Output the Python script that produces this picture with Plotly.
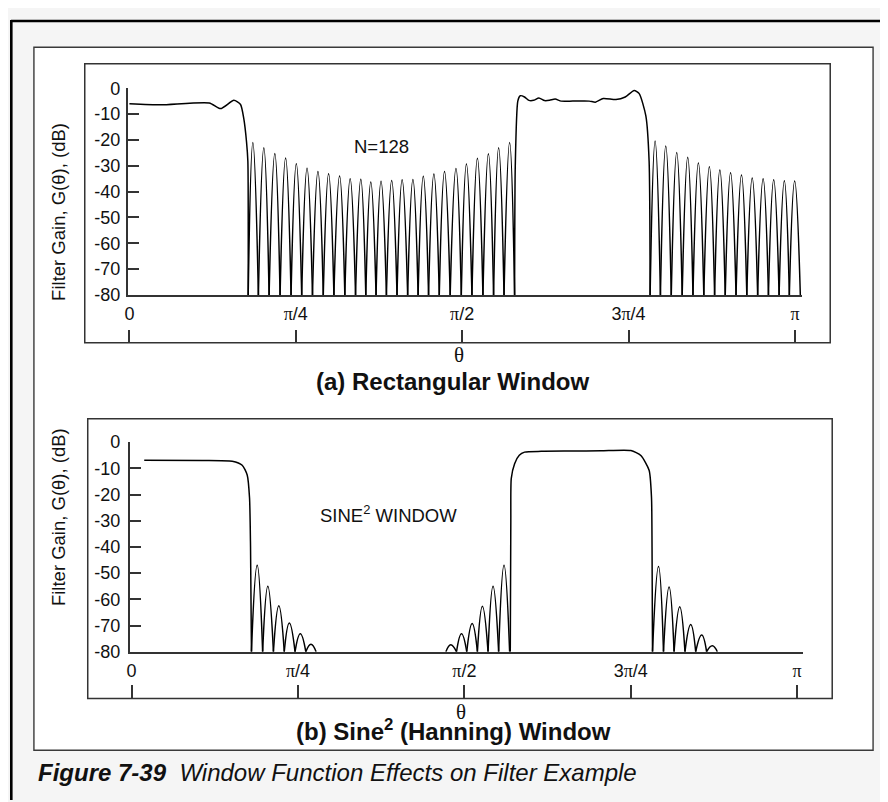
import plotly.graph_objects as go

W, H = 888, 802
FLOOR_DB = -80.0

# ---------------- data (x in units of pi, y in dB) ----------------
# Panel (a): rectangular window, N = 128
a_pass_lo_x = [0.000, 0.047, 0.120, 0.137, 0.157, 0.167, 0.172, 0.176, 0.178, 0.1785]
a_pass_lo_db = [-6.0, -6.4, -5.7, -7.9, -4.7, -6.3, -12.0, -20.8, -28.3, -80.0]

a_stop1_null = [0.1785, 0.1938, 0.2099, 0.2264, 0.2429, 0.2589, 0.2751, 0.2913, 0.3073,
                0.3237, 0.3398, 0.3552, 0.3706, 0.3862, 0.4021, 0.4181, 0.4338, 0.4495,
                0.4656, 0.4820, 0.4987, 0.5147, 0.5312, 0.5472, 0.5629, 0.5788]
a_stop1_peak_x = [0.1855, 0.2020, 0.2185, 0.2347, 0.2508, 0.2669, 0.2833, 0.2993, 0.3158,
                  0.3317, 0.3477, 0.3627, 0.3781, 0.3941, 0.4098, 0.4260, 0.4416, 0.4575,
                  0.4735, 0.4907, 0.5064, 0.5229, 0.5394, 0.5548, 0.5713]
a_stop1_peak_db = [-21.0, -23.0, -25.3, -27.0, -29.2, -31.0, -32.2, -33.1, -34.0,
                   -35.0, -35.2, -36.3, -36.0, -35.7, -35.4, -35.3, -34.1, -33.2,
                   -32.2, -31.1, -29.3, -27.1, -25.4, -23.0, -21.0]

a_pass_hi_x = [0.5788, 0.5798, 0.5836, 0.5873, 0.5937, 0.6003, 0.6072, 0.6153, 0.6237,
               0.6312, 0.6397, 0.6487, 0.6662, 0.6911, 0.7001, 0.7120, 0.7311, 0.7450,
               0.7585, 0.7660, 0.7760, 0.7809, 0.7824]
a_pass_hi_db = [-80.0, -30.0, -5.0, -2.9, -3.4, -4.7, -4.7, -3.8, -4.8,
                -4.7, -4.2, -5.0, -5.0, -5.0, -5.4, -4.0, -4.4, -3.4,
                -0.9, -2.1, -10.7, -28.3, -80.0]

a_stop2_null = [0.7824, 0.7979, 0.8142, 0.8306, 0.8468, 0.8631, 0.8793, 0.8953,
                0.9115, 0.9277, 0.9440, 0.9602, 0.9762, 0.9916, 1.0081]
a_stop2_peak_x = [0.7899, 0.8059, 0.8224, 0.8389, 0.8549, 0.8714, 0.8872, 0.9033,
                  0.9197, 0.9358, 0.9522, 0.9681, 0.9841, 0.9996]
a_stop2_peak_db = [-20.4, -22.4, -24.9, -26.7, -28.9, -30.4, -31.7, -32.7,
                   -33.6, -34.8, -35.0, -35.4, -35.8, -35.9]

# Panel (b): sine^2 (Hanning) window
b_pass_lo_x = [0.019, 0.1063, 0.1512, 0.1662, 0.1737, 0.1772, 0.1787, 0.1801]
b_pass_lo_db = [-6.9, -7.0, -7.3, -8.8, -12.5, -21.2, -39.8, -80.0]

b_side1_null = [0.1801, 0.1969, 0.2131, 0.2294, 0.2456, 0.2618, 0.2773]
b_side1_peak_x = [0.1887, 0.2047, 0.2212, 0.2370, 0.2535, 0.2695]
b_side1_peak_db = [-47.0, -55.0, -62.4, -69.0, -73.1, -77.1]

b_side2_null = [0.4722, 0.4882, 0.5036, 0.5196, 0.5356, 0.5515, 0.5680]
b_side2_peak_x = [0.4796, 0.4957, 0.5117, 0.5271, 0.5431, 0.5596]
b_side2_peak_db = [-77.3, -73.1, -69.2, -62.6, -55.0, -47.0]

b_pass_hi_x = [0.5690, 0.5698, 0.5705, 0.5755, 0.5825, 0.5905, 0.6156, 0.6604,
               0.7053, 0.7502, 0.7652, 0.7776, 0.7812, 0.7820, 0.7827]
b_pass_hi_db = [-80.0, -30.0, -13.8, -8.2, -5.0, -3.8, -3.5, -3.4,
                -3.3, -3.2, -5.1, -10.7, -21.2, -40.0, -80.0]

b_side3_null = [0.7827, 0.7992, 0.8151, 0.8315, 0.8476, 0.8640, 0.8801]
b_side3_peak_x = [0.7917, 0.8076, 0.8236, 0.8401, 0.8566, 0.8726]
b_side3_peak_db = [-47.5, -55.3, -62.8, -69.6, -73.6, -77.7]

# axis ticks
x_tickvals = [0, 0.25, 0.5, 0.75, 1.0]
PI = '<span style="font-family:Liberation Serif">π</span>'
x_ticktext = ['0', PI + '/4', PI + '/2', '3' + PI + '/4', PI]
y_tickvals = [0, -10, -20, -30, -40, -50, -60, -70, -80]
y_ticktext = ['0', '-10', '-20', '-30', '-40', '-50', '-60', '-70', '-80']

# ---------------- styling ----------------
FONT = "Liberation Sans, Arial, Helvetica, sans-serif"
INK = "#111111"
AX = "#333333"
CURVE = dict(color="black", width=1.5, shape="spline", smoothing=1.3)
PASS = dict(color="black", width=1.5, shape="spline", smoothing=0.6)

# the page body adds an 8 px margin; positions below are given in screen pixels
OFF = 8


def px(x):
    return (x - OFF) / W


def py(y):
    return 1 - (y - OFF) / H


def lobes(nulls, peak_x, peak_db):
    xs, ys = [], []
    for i in range(len(peak_x)):
        xs += [nulls[i], peak_x[i], nulls[i + 1], None]
        ys += [FLOOR_DB, peak_db[i], FLOOR_DB, None]
    return xs, ys


fig = go.Figure()


def add(x, y, line, xa, ya):
    fig.add_trace(go.Scatter(x=x, y=y, mode="lines", line=line, xaxis=xa, yaxis=ya,
                             hoverinfo="skip", showlegend=False, connectgaps=False))


# panel (a)
add(a_pass_lo_x, a_pass_lo_db, PASS, "x", "y")
add(*lobes(a_stop1_null, a_stop1_peak_x, a_stop1_peak_db), CURVE, "x", "y")
add(a_pass_hi_x, a_pass_hi_db, PASS, "x", "y")
add(*lobes(a_stop2_null, a_stop2_peak_x, a_stop2_peak_db), CURVE, "x", "y")
# panel (b)
add(b_pass_lo_x, b_pass_lo_db, PASS, "x2", "y2")
add(*lobes(b_side1_null, b_side1_peak_x, b_side1_peak_db), CURVE, "x2", "y2")
add(*lobes(b_side2_null, b_side2_peak_x, b_side2_peak_db), CURVE, "x2", "y2")
add(b_pass_hi_x, b_pass_hi_db, PASS, "x2", "y2")
add(*lobes(b_side3_null, b_side3_peak_x, b_side3_peak_db), CURVE, "x2", "y2")
# carriers for the bottom tick-mark axes
add([None], [None], dict(color="rgba(0,0,0,0)"), "x3", "y")
add([None], [None], dict(color="rgba(0,0,0,0)"), "x4", "y2")

tickfont = dict(family=FONT, size=18, color=INK)


def xaxis(domain, rng, anchor):
    return dict(domain=domain, range=rng, anchor=anchor, showline=True, linecolor=AX,
                linewidth=1.5, ticks="", tickvals=x_tickvals, ticktext=x_ticktext,
                tickfont=tickfont, ticklabelstandoff=2, showgrid=False, zeroline=False,
                fixedrange=True)


def yaxis(domain, anchor, standoff):
    return dict(domain=domain, range=[-80, 0], anchor=anchor, showline=True, linecolor=AX,
                linewidth=1.5, ticks="inside", ticklen=12, tickwidth=1.5, tickcolor=AX,
                tickvals=y_tickvals, ticktext=y_ticktext, tickfont=tickfont,
                ticklabelstandoff=standoff, showgrid=False, zeroline=False, fixedrange=True)


def tickaxis(over, pos, rng, ln):
    return dict(overlaying=over, anchor="free", position=pos, range=rng,
                tickvals=x_tickvals, ticks="inside", ticklen=ln, tickwidth=1.5,
                tickcolor=AX, showticklabels=False, showline=False, showgrid=False,
                zeroline=False, fixedrange=True)


xa_rng = [-0.0027, 1.0111]
xb_rng = [-0.0030, 1.0093]

shapes = [
    # inner white page
    dict(type="rect", xref="paper", yref="paper", x0=px(31), x1=px(873), y0=py(759), y1=py(38),
         fillcolor="white", line=dict(color="#3a3a3a", width=1.4), layer="below"),
    # panel frames
    dict(type="rect", xref="paper", yref="paper", x0=px(82), x1=px(830), y0=py(341), y1=py(55),
         line=dict(color=AX, width=1.5), layer="below"),
    dict(type="rect", xref="paper", yref="paper", x0=px(85), x1=px(832), y0=py(706), y1=py(419),
         line=dict(color=AX, width=1.5), layer="below"),
    # outer heavy rules
    dict(type="line", xref="paper", yref="paper", x0=0, x1=1, y0=py(11.2), y1=py(11.2),
         line=dict(color="black", width=2.5)),
    dict(type="line", xref="paper", yref="paper", x0=0.3 / W, x1=0.3 / W, y0=0, y1=py(10),
         line=dict(color="black", width=2.6)),
]


def note(text, x, y, size, **kw):
    d = dict(text=text, x=px(x), y=py(y), xref="paper", yref="paper", showarrow=False,
             font=dict(family=FONT, size=size, color=INK), xanchor="center", yanchor="middle")
    d.update(kw)
    return d


THETA = '<span style="font-family:Liberation Serif">θ</span>'
annotations = [
    note("Filter Gain, G(θ), (dB)", 55, 207, 18.5, textangle=-90),
    note("Filter Gain, G(θ), (dB)", 55, 520, 18.5, textangle=-90),
    note("N=128", 380, 140, 18.5),
    note("SINE<sup>2</sup> WINDOW", 316, 517, 18.5, xanchor="left"),
    note(THETA, 458, 354, 21),
    note(THETA, 460, 720, 21),
    note("<b>(a) Rectangular Window</b>", 451, 381, 24),
    note("<b>(b) Sine<sup>2</sup> (Hanning) Window</b>", 451.5, 738, 24),
    note("<b><i>Figure 7-39</i></b>\u00a0\u00a0<i>Window Function Effects on Filter Example</i>",
         33, 782, 24, xanchor="left"),
]

fig.update_layout(
    width=W, height=H, margin=dict(l=0, r=0, t=0, b=0), autosize=False,
    paper_bgcolor="#f5f5f5", plot_bgcolor="rgba(0,0,0,0)",
    font=dict(family=FONT, color=INK),
    xaxis=xaxis([px(125), px(802)], xa_rng, "y"),
    yaxis=yaxis([py(292), py(80)], "x", 2),
    xaxis2=xaxis([px(127), px(803)], xb_rng, "y2"),
    yaxis2=yaxis([py(658), py(443)], "x2", 4),
    xaxis3=tickaxis("x", py(341), xa_rng, 13),
    xaxis4=tickaxis("x2", py(706), xb_rng, 14),
    shapes=shapes, annotations=annotations, showlegend=False,
)

fig.write_html("out.html")
